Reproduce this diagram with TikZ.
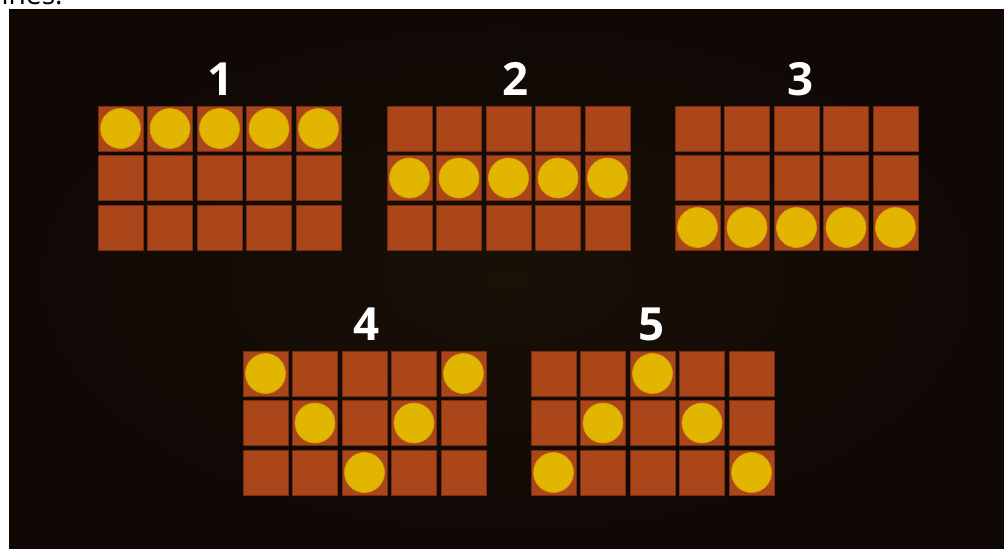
\documentclass[tikz,border=0pt]{standalone}
\usepackage{fontspec}
\setsansfont{Open Sans}
\usepackage{xcolor}
\usepackage{tikz}
\usetikzlibrary{positioning}
\definecolor{bgdark}{RGB}{15,8,5}
\definecolor{bgglow}{RGB}{25,16,6}
\definecolor{cellrust}{RGB}{171,69,26}
\definecolor{celledge}{RGB}{120,45,15}
\definecolor{coingold}{RGB}{226,181,0}
\definecolor{coinedge}{RGB}{214,160,8}
\tikzset{
  cell/.style={
    rectangle,
    minimum size=0.9cm,
    inner sep=0pt,
    fill=cellrust,
    draw=celledge,
    line width=0.5pt
  },
  coin/.style={
    circle,
    minimum size=0.8cm,
    inner sep=0pt,
    fill=coingold,
    draw=coinedge,
    line width=0.4pt
  },
  numlbl/.style={
    inner sep=0pt,
    text=white,
    font=\sffamily\bfseries\fontsize{26}{26}\selectfont
  },
  toptext/.style={
    inner sep=0pt,
    text=black,
    font=\sffamily\fontsize{16}{16}\selectfont
  }
}

\begin{document}
\begin{tikzpicture}[x=0.02cm, y=-0.02cm]

  % PAGE AND BACKGROUND
  \useasboundingbox[fill=white] (0,0) rectangle (1004,548);
  \node (caption) [toptext, anchor=base east] at (63,4) {lines.};
  \fill[bgdark] (9,9) rectangle (1004,548);
  \shade[inner color=bgglow, outer color=bgdark] (9,9) rectangle (1004,548);

  % GRIDS AND NUMBERS
  \foreach \g/\gx/\gy/\dx in {1/98/106/123, 2/387/106/129, 3/675/106/126, 4/243/351/124, 5/531/351/121} {
    \node (n\g) [numlbl] at (\gx+\dx, \gy-27) {\g};
    \foreach \c in {1,...,5} {
      \foreach \r in {1,2,3} {
        \node (p\g-\c-\r) [cell] at ({\gx+22.5+(\c-1)*49.5}, {\gy+22.5+(\r-1)*49.5}) {};
      }
    }
  }

  % COINS ON EACH LINE
  \foreach \g/\a/\b/\c/\d/\e in {1/1/1/1/1/1, 2/2/2/2/2/2, 3/3/3/3/3/3, 4/1/2/3/2/1, 5/3/2/1/2/3} {
    \foreach \col/\row in {1/\a, 2/\b, 3/\c, 4/\d, 5/\e} {
      \node (c\g-\col) [coin] at (p\g-\col-\row) {};
    }
  }

\end{tikzpicture}
\end{document}
